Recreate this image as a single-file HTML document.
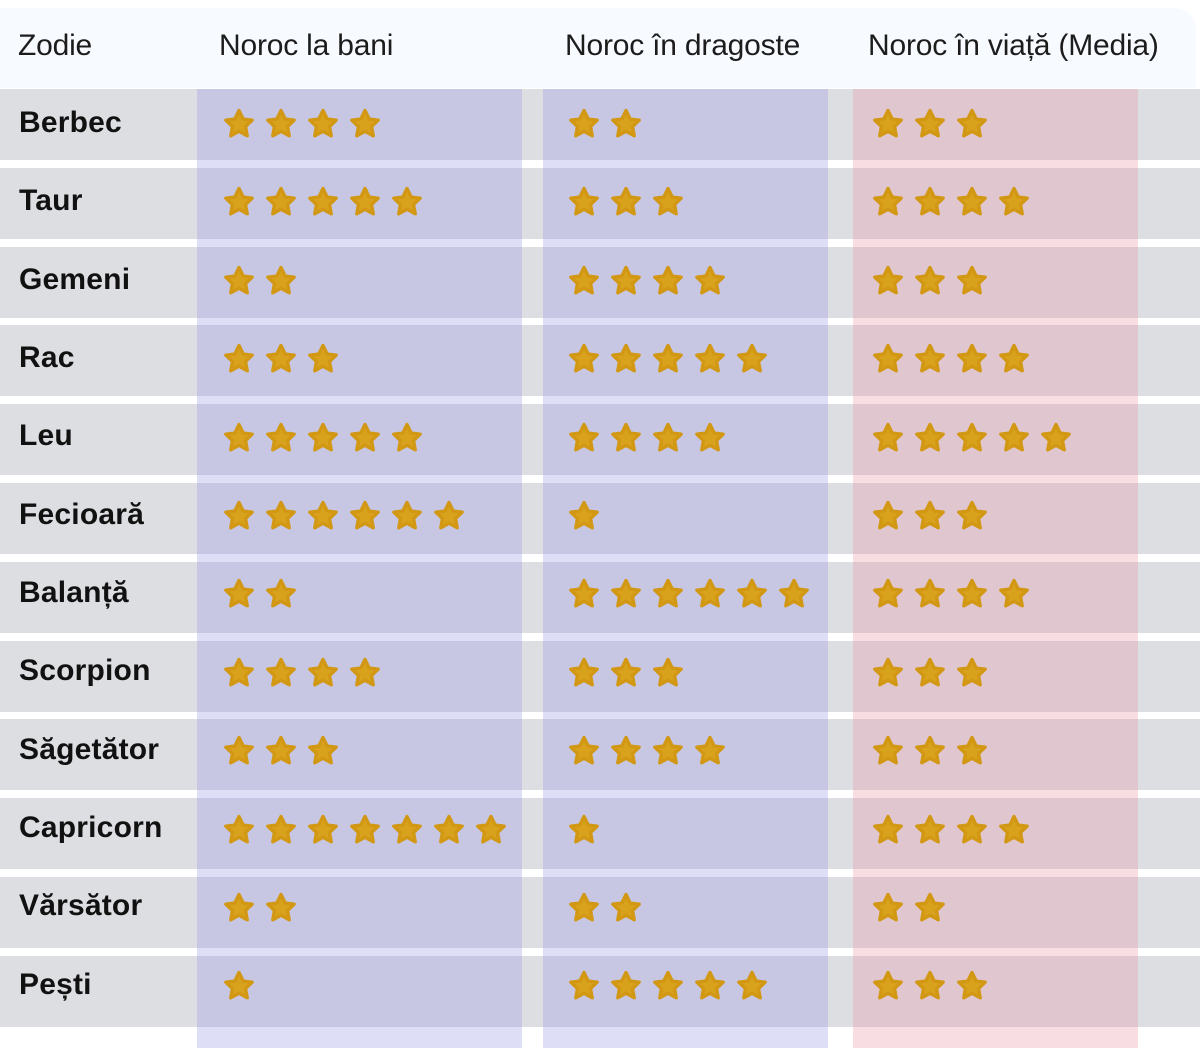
<!DOCTYPE html>
<html><head><meta charset="utf-8"><style>
body{margin:0;width:1200px;height:1048px;background:#fff;position:relative;overflow:hidden;font-family:"Liberation Sans",Arial,sans-serif;}
.hdr{position:absolute;top:8px;left:0;width:1196px;height:80px;background:#f7faff;border-radius:0 22px 0 0;}
.h{position:absolute;top:29px;font-size:30px;color:#1c1c1c;letter-spacing:-0.2px;}
.row{position:absolute;left:0;width:1200px;height:71px;background:#dddee2;}
.lab{position:absolute;left:19px;font-size:30px;font-weight:bold;color:#111;letter-spacing:0.2px;}
.ov{position:absolute;top:89px;height:959px;}
svg.s{position:absolute;width:34px;height:34px;}
</style></head><body>
<div class="hdr"></div>
<div class="h" style="left:18px">Zodie</div>
<div class="h" style="left:219px">Noroc la bani</div>
<div class="h" style="left:565px">Noroc în dragoste</div>
<div class="h" style="left:868px">Noroc în viață (Media)</div>
<div id="rows"></div>
<div class="ov" style="left:197px;width:325px;background:rgba(150,145,230,0.3)"></div>
<div class="ov" style="left:543px;width:285px;background:rgba(150,145,230,0.3)"></div>
<div class="ov" style="left:853px;width:285px;background:rgba(232,144,163,0.3)"></div>
<div id="labs">
<div class="lab" style="top:106px">Berbec</div>
<div class="lab" style="top:184px">Taur</div>
<div class="lab" style="top:263px">Gemeni</div>
<div class="lab" style="top:341px">Rac</div>
<div class="lab" style="top:419px">Leu</div>
<div class="lab" style="top:498px">Fecioară</div>
<div class="lab" style="top:576px">Balanță</div>
<div class="lab" style="top:654px">Scorpion</div>
<div class="lab" style="top:733px">Săgetător</div>
<div class="lab" style="top:811px">Capricorn</div>
<div class="lab" style="top:889px">Vărsător</div>
<div class="lab" style="top:968px">Pești</div>
</div>
<svg width="0" height="0" style="position:absolute"><defs><symbol id="st" viewBox="0 0 24 24"><path d="M12 2.5l2.9 6 6.4.8-4.7 4.5 1.2 6.5L12 17.1l-5.8 3.2 1.2-6.5-4.7-4.5 6.4-.8z" fill="#d9a21c" stroke="#d29814" stroke-width="2.4" stroke-linejoin="round"/></symbol></defs></svg>
<div id="stars"></div>
<script>
var cnt=[[4,2,3],[5,3,4],[2,4,3],[3,5,4],[5,4,5],[6,1,3],[2,6,4],[4,3,3],[3,4,3],[7,1,4],[2,2,2],[1,5,3]];
var xs=[239,584,888],rr='',ss='';
for(var i=0;i<12;i++){var ty=89+i*78.8;rr+='<div class="row" style="top:'+ty+'px"></div>';
var cy=124+i*78.4;
for(var j=0;j<3;j++)for(var k=0;k<cnt[i][j];k++){ss+='<svg class="s" style="left:'+(xs[j]+k*42-17)+'px;top:'+(cy-17)+'px"><use href="#st"/></svg>';}}
document.getElementById('rows').innerHTML=rr;document.getElementById('stars').innerHTML=ss;
</script>
</body></html>
